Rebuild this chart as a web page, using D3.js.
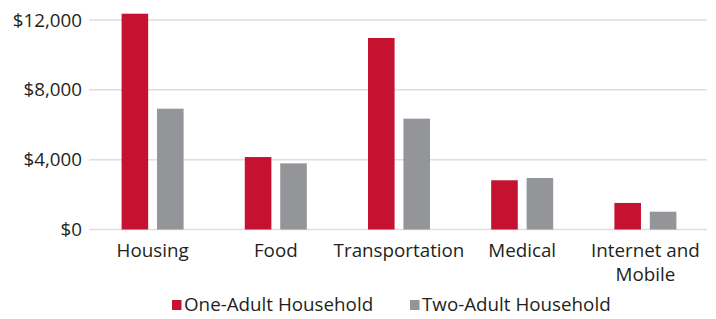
<!DOCTYPE html>
<html>
<head>
<meta charset="utf-8">
<script src="https://cdn.jsdelivr.net/npm/d3@7"></script>
<style>
  body { margin: 0; background: #fff; }
  text { font-family: "Open Sans", sans-serif; fill: #231f20; }
</style>
</head>
<body>
<script>
// expense categories and annual costs
const categories = ['Housing', 'Food', 'Transportation', 'Medical', 'Internet and Mobile'];
const oneAdult = [12360, 4150, 10970, 2820, 1520];
const twoAdult = [6920, 3790, 6350, 2950, 1020];
const seriesNames = ['One-Adult Household', 'Two-Adult Household'];
const colors = ['#c41230', '#939598'];
const yTicks = [0, 4000, 8000, 12000];

const width = 716, height = 319;
const margin = {top: 20, right: 9, bottom: 90, left: 91};
const fontSize = '18.8px';

const svg = d3.select('body').append('svg')
    .attr('width', width)
    .attr('height', height);

const x = d3.scaleBand()
    .domain(categories)
    .range([margin.left, width - margin.right]);

const x1 = d3.scaleBand()
    .domain(seriesNames)
    .range([0, 62])
    .paddingInner(0.25);

const y = d3.scaleLinear()
    .domain([0, 12000])
    .range([height - margin.bottom + 0.5, margin.top]);

// gridlines
svg.append('g')
  .selectAll('line')
  .data(yTicks)
  .enter()
  .append('line')
    .attr('x1', margin.left - 2)
    .attr('x2', width - margin.right)
    .attr('y1', d => y(d))
    .attr('y2', d => y(d))
    .attr('stroke', '#dedede')
    .attr('stroke-width', 1.5);

// y labels
const fmt = d3.format('$,');
svg.append('g')
  .selectAll('text')
  .data(yTicks)
  .enter()
  .append('text')
    .attr('x', 82)
    .attr('y', d => y(d))
    .attr('dy', '0.35em')
    .attr('text-anchor', 'end')
    .style('font-size', fontSize)
    .text(d => fmt(d));

// bars
const rows = categories.map((c, i) => ({cat: c, vals: [oneAdult[i], twoAdult[i]]}));
const groups = svg.append('g')
  .selectAll('g')
  .data(rows)
  .enter()
  .append('g')
    .attr('transform', d => `translate(${x(d.cat) + x.bandwidth() / 2 - 31},0)`);

groups.selectAll('rect')
  .data(d => d.vals.map((v, j) => ({name: seriesNames[j], v: v, j: j})))
  .enter()
  .append('rect')
    .attr('x', d => x1(d.name))
    .attr('y', d => y(d.v))
    .attr('width', x1.bandwidth())
    .attr('height', d => y(0) - y(d.v))
    .attr('fill', d => colors[d.j]);

// category labels (wrap the last one)
const labelLines = {'Internet and Mobile': ['Internet and', 'Mobile']};
svg.append('g')
  .selectAll('text')
  .data(categories)
  .enter()
  .append('text')
    .attr('text-anchor', 'middle')
    .attr('x', d => x(d) + x.bandwidth() / 2)
    .attr('y', 257)
    .style('font-size', fontSize)
    .each(function(d) {
      const lines = labelLines[d] || [d];
      d3.select(this).selectAll('tspan')
        .data(lines)
        .enter()
        .append('tspan')
          .attr('x', x(d) + x.bandwidth() / 2)
          .attr('dy', (l, i) => i === 0 ? 0 : 24)
          .text(l => l);
    });

// legend
const legendX = [172, 410];
const legend = svg.append('g')
  .selectAll('g')
  .data(seriesNames)
  .enter()
  .append('g')
    .attr('transform', (d, i) => `translate(${legendX[i]},300)`);

legend.append('rect')
    .attr('width', 9.5)
    .attr('height', 10)
    .attr('fill', (d, i) => colors[i]);

legend.append('text')
    .attr('x', 12)
    .attr('y', 11)
    .style('font-size', fontSize)
    .text(d => d);
</script>
</body>
</html>
